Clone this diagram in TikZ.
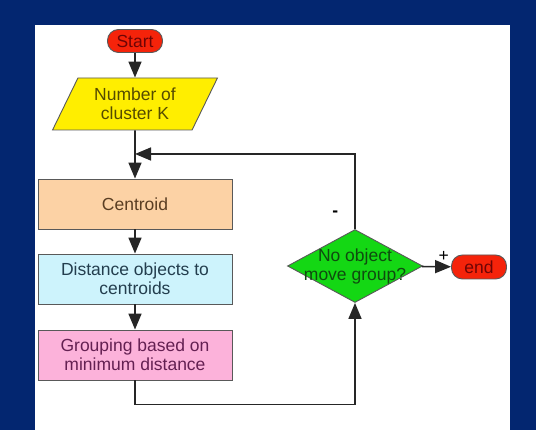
\documentclass[tikz,border=0pt]{standalone}
\usepackage{fontspec}
\setmainfont{Liberation Sans}
\usetikzlibrary{arrows.meta,shapes.geometric}
\definecolor{slideblue}{RGB}{3,38,112}
\definecolor{termred}{RGB}{245,35,10}
\definecolor{termtext}{RGB}{110,5,5}
\definecolor{ioyellow}{RGB}{255,238,0}
\definecolor{iotext}{RGB}{85,75,0}
\definecolor{peach}{RGB}{252,210,165}
\definecolor{peachtext}{RGB}{90,62,35}
\definecolor{skycyan}{RGB}{205,243,252}
\definecolor{skytext}{RGB}{35,62,78}
\definecolor{rosepink}{RGB}{252,178,218}
\definecolor{rosetext}{RGB}{100,32,82}
\definecolor{leafgreen}{RGB}{20,215,20}
\definecolor{leaftext}{RGB}{15,75,15}

\begin{document}
\begin{tikzpicture}[x=1pt, y=-1pt, every node/.style={font=\fontsize{17.5}{19}\selectfont, align=center, inner sep=2pt}, terminal/.style={rectangle, rounded corners=11pt, minimum width=55pt, minimum height=23pt, fill=termred, draw=black!65, line width=0.9pt, text=termtext}, io/.style={trapezium, trapezium left angle=62, trapezium right angle=118, trapezium stretches=true, minimum width=165pt, minimum height=52pt, fill=ioyellow, draw=black!65, line width=0.9pt, text=iotext}, process/.style 2 args={rectangle, minimum width=194pt, minimum height=50pt, fill=#1, text=#2, draw=black!65, line width=0.9pt}, decision/.style={diamond, aspect=1.85, minimum width=135pt, minimum height=73pt, inner sep=0pt, fill=leafgreen, draw=black!65, line width=0.9pt}, flow/.style={draw=black!85, line width=1.6pt, -{Triangle[length=16pt,width=13pt]}}]
  \fill[slideblue] (0,0) rectangle (536,430);
  \fill[white] (35,25) rectangle (510,430);
  \node[terminal] (start) at (135,41) {Start};
  \node[io] (clusters) at (135,104) {Number of\\cluster K};
  \node[process={peach}{peachtext}] (centroid) at (135,204) {Centroid};
  \node[process={skycyan}{skytext}] (distance) at (135,279) {Distance objects to\\centroids};
  \node[process={rosepink}{rosetext}] (grouping) at (135,355) {Grouping based on\\minimum distance};
  \node[decision, label={[text=leaftext]center:No object\\move group?}] (check) at (355,266) {};
  \node[terminal, minimum height=24pt] (stop) at (479,267) {end};
  \coordinate (merge) at (135,154);
  \draw[flow] (start) -- (clusters);
  \draw[flow] (clusters) -- (centroid);
  \draw[flow] (centroid) -- (distance);
  \draw[flow] (distance) -- (grouping);
  \draw[flow] (grouping.south) -- ++(0,24) -| (check.south);
  \draw[flow] (check.north) |- node[pos=0.1, left=14pt] {\textbf{-}} (merge);
  \draw[flow] (check) -- node[pos=0.75, above=2pt] {+} (stop);
\end{tikzpicture}
\end{document}
